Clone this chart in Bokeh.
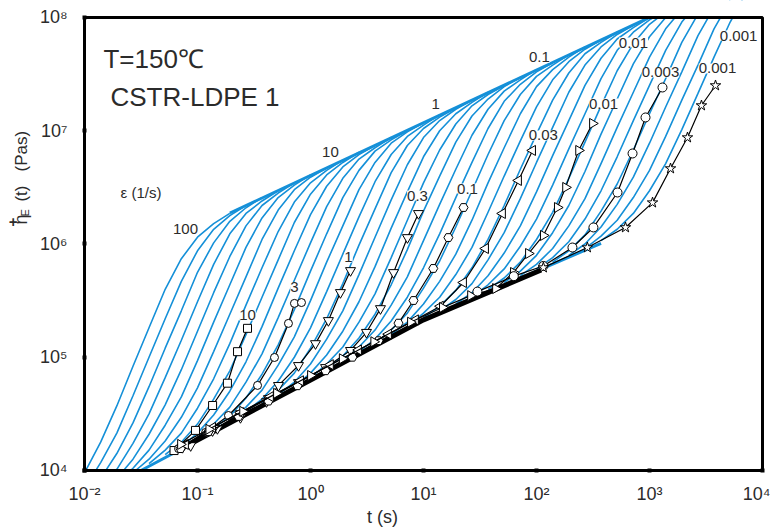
import math
from bokeh.plotting import figure
from bokeh.models import Range1d, FixedTicker, CustomJSTickFormatter, Label
from bokeh.embed import file_html
from bokeh.resources import INLINE

BLUE = "#1590d8"
INK = "#2b2b2b"
FONT = "Liberation Sans"

# ---------------------------------------------------------------------------
# Model curves: log10(t) sampling shared by all of them
grid_logt = [-2.000, -1.857, -1.714, -1.571, -1.429, -1.286, -1.143, -1.000,
             -0.857, -0.714, -0.571, -0.429, -0.286, -0.143, 0.000, 0.143,
             0.286, 0.429, 0.571, 0.714, 0.857, 1.000, 1.143, 1.286,
             1.429, 1.571, 1.714, 1.857, 2.000, 2.143, 2.286, 2.429,
             2.571, 2.714, 2.857, 3.000, 3.143, 3.286, 3.429, 3.571,
             3.714, 3.857, 4.000]

# strain rates 100 ... 0.001 1/s, seven per decade: index of the first grid
# point of each strain-hardening branch and log10(eta) from there on
blue_start = [0, 0, 0, 0, 1, 2, 3, 4, 5, 6, 7, 8, 9, 10, 11, 12, 13, 14,
              15, 16, 17, 18, 19, 20, 21, 22, 23, 24, 25, 26, 27, 28, 29,
              30, 31, 32]
blue_logeta = [
    [3.98, 4.25, 4.57, 4.92, 5.26, 5.60, 5.87, 6.06, 6.18, 6.27],
    [3.84, 4.07, 4.33, 4.66, 5.00, 5.34, 5.67, 5.94, 6.13, 6.25, 6.34],
    [3.76, 3.93, 4.15, 4.42, 4.74, 5.08, 5.41, 5.75, 6.01, 6.20, 6.32, 6.41],
    [3.72, 3.85, 4.01, 4.24, 4.50, 4.82, 5.15, 5.49, 5.82, 6.09, 6.27, 6.38, 6.47],
    [3.81, 3.93, 4.10, 4.32, 4.58, 4.89, 5.23, 5.57, 5.89, 6.16, 6.34, 6.45, 6.54],
    [3.89, 4.02, 4.18, 4.40, 4.65, 4.97, 5.31, 5.64, 5.97, 6.23, 6.41, 6.52, 6.61],
    [3.98, 4.10, 4.26, 4.47, 4.73, 5.05, 5.38, 5.71, 6.04, 6.30, 6.48, 6.59, 6.67],
    [4.06, 4.18, 4.33, 4.55, 4.81, 5.12, 5.46, 5.79, 6.11, 6.37, 6.54, 6.65, 6.74],
    [4.14, 4.25, 4.41, 4.63, 4.88, 5.20, 5.53, 5.86, 6.19, 6.44, 6.61, 6.72, 6.81],
    [4.21, 4.33, 4.49, 4.70, 4.96, 5.27, 5.61, 5.94, 6.26, 6.51, 6.68, 6.79, 6.87],
    [4.29, 4.41, 4.56, 4.78, 5.03, 5.35, 5.68, 6.01, 6.33, 6.58, 6.75, 6.85, 6.94],
    [4.37, 4.48, 4.64, 4.85, 5.11, 5.42, 5.76, 6.09, 6.41, 6.65, 6.82, 6.92, 7.00],
    [4.44, 4.56, 4.71, 4.93, 5.18, 5.50, 5.84, 6.16, 6.48, 6.72, 6.89, 6.99, 7.07],
    [4.52, 4.63, 4.79, 5.00, 5.26, 5.58, 5.91, 6.24, 6.55, 6.79, 6.95, 7.05, 7.14],
    [4.59, 4.71, 4.86, 5.08, 5.34, 5.65, 5.99, 6.31, 6.63, 6.87, 7.02, 7.12, 7.20],
    [4.67, 4.78, 4.94, 5.16, 5.41, 5.73, 6.06, 6.39, 6.70, 6.94, 7.09, 7.19, 7.27],
    [4.74, 4.86, 5.02, 5.23, 5.49, 5.80, 6.14, 6.46, 6.77, 7.00, 7.15, 7.25, 7.34],
    [4.82, 4.94, 5.09, 5.31, 5.56, 5.88, 6.21, 6.54, 6.83, 7.06, 7.22, 7.32, 7.40],
    [4.90, 5.01, 5.17, 5.38, 5.64, 5.95, 6.29, 6.60, 6.90, 7.13, 7.28, 7.39, 7.47],
    [4.97, 5.09, 5.24, 5.46, 5.71, 6.03, 6.35, 6.66, 6.96, 7.19, 7.35, 7.45, 7.54],
    [5.05, 5.16, 5.32, 5.53, 5.79, 6.09, 6.41, 6.72, 7.02, 7.26, 7.41, 7.52, 7.60],
    [5.12, 5.24, 5.39, 5.61, 5.85, 6.15, 6.47, 6.79, 7.09, 7.32, 7.48, 7.58, 7.67],
    [5.20, 5.31, 5.47, 5.67, 5.91, 6.21, 6.54, 6.85, 7.15, 7.39, 7.54, 7.65, 7.74],
    [5.27, 5.39, 5.53, 5.73, 5.97, 6.28, 6.60, 6.91, 7.21, 7.45, 7.61, 7.72, 7.80],
    [5.35, 5.45, 5.59, 5.79, 6.04, 6.34, 6.66, 6.97, 7.27, 7.51, 7.68, 7.78, 7.87],
    [5.41, 5.51, 5.65, 5.86, 6.10, 6.40, 6.72, 7.03, 7.34, 7.58, 7.74, 7.85, 7.93],
    [5.47, 5.57, 5.72, 5.92, 6.16, 6.46, 6.78, 7.09, 7.40, 7.64, 7.81, 7.91, 8.00],
    [5.53, 5.64, 5.78, 5.98, 6.22, 6.52, 6.84, 7.15, 7.46, 7.71, 7.87, 7.98, 8.06],
    [5.60, 5.70, 5.84, 6.04, 6.28, 6.58, 6.90, 7.22, 7.53, 7.77, 7.94, 8.05],
    [5.66, 5.76, 5.90, 6.10, 6.34, 6.64, 6.97, 7.28, 7.59, 7.83, 8.00, 8.11],
    [5.72, 5.82, 5.96, 6.16, 6.40, 6.71, 7.03, 7.34, 7.65, 7.90, 8.07],
    [5.78, 5.88, 6.02, 6.22, 6.47, 6.77, 7.09, 7.40, 7.71, 7.96, 8.13],
    [5.84, 5.94, 6.08, 6.29, 6.53, 6.83, 7.15, 7.46, 7.78, 8.03],
    [5.90, 6.00, 6.15, 6.35, 6.59, 6.89, 7.21, 7.52, 7.84, 8.09],
    [5.96, 6.07, 6.21, 6.41, 6.65, 6.95, 7.27, 7.58, 7.90, 8.15],
    [6.03, 6.13, 6.27, 6.47, 6.71, 7.01, 7.33, 7.65, 7.96, 8.22],
]

# common linear-viscoelastic start and common upper envelope of the model
lve_logt = [-1.5, 1.0, 2.571]
lve_logeta = [4.00, 5.33, 6.006]
env_logt = [-0.714, 3.0]
env_logeta = [6.274, 8.001]

# linear viscoelastic start-up curve (thick black)
lve_t = [0.065, 1.0, 10.0, 110.0]
lve_eta = [1.48e4, 6.3e4, 2.14e5, 5.9e5]

# measured start-up elongational viscosities, one pair per strain rate
t_10 = [0.062, 0.096, 0.136, 0.184, 0.226, 0.277]
eta_10 = [1.50e4, 2.26e4, 3.75e4, 5.90e4, 1.12e5, 1.80e5]
t_3 = [0.068, 0.118, 0.188, 0.340, 0.480, 0.638, 0.721, 0.832]
eta_3 = [1.56e4, 2.17e4, 3.06e4, 5.64e4, 9.95e4, 1.99e5, 2.99e5, 3.04e5]
t_1 = [0.087, 0.150, 0.240, 0.408, 0.521, 0.783, 1.107, 1.44, 1.84, 2.26]
eta_1 = [1.66e4, 2.35e4, 2.94e4, 4.06e4, 5.64e4, 8.46e4, 1.32e5, 2.11e5,
         3.73e5, 5.83e5]
t_0p3 = [0.0736, 0.136, 0.240, 0.425, 0.783, 1.36, 2.26, 3.13, 4.16, 5.43,
         7.21, 9.03]
eta_0p3 = [1.60e4, 2.25e4, 3.18e4, 4.32e4, 5.98e4, 8.12e4, 1.15e5, 1.66e5,
           2.69e5, 5.60e5, 1.14e6, 1.86e6]
t_0p1 = [0.0708, 0.125, 0.231, 0.425, 0.767, 1.36, 2.35, 4.0, 6.01, 8.16,
         12.2, 16.6, 22.6]
eta_0p1 = [1.56e4, 2.20e4, 3.00e4, 4.10e4, 5.60e4, 7.60e4, 1.00e5, 1.40e5,
           2.00e5, 3.17e5, 6.08e5, 1.14e6, 2.10e6]
t_0p03 = [0.0783, 0.136, 0.240, 0.442, 0.816, 1.50, 2.66, 4.90, 8.49, 14.1,
          22.6, 35.4, 50.0, 69.3, 92.3]
eta_0p03 = [1.70e4, 2.40e4, 3.25e4, 4.49e4, 6.20e4, 8.60e4, 1.16e5, 1.60e5,
            2.14e5, 2.82e5, 4.57e5, 9.12e5, 1.86e6, 3.64e6, 6.70e6]
t_0p01 = [0.0708, 0.126, 0.251, 0.50, 1.0, 1.91, 3.63, 7.67, 14.7, 26.1,
          43.4, 62.5, 84.9, 115.0, 153.0, 181.0, 236.0, 313.0]
eta_0p01 = [1.70e4, 2.31e4, 3.33e4, 4.80e4, 6.90e4, 9.70e4, 1.37e5, 2.04e5,
            2.75e5, 3.50e5, 4.04e5, 5.60e5, 8.24e5, 1.19e6, 2.10e6, 3.16e6,
            6.70e6, 1.16e7]
t_0p003 = [30.0, 63.0, 115.0, 208.0, 319.0, 521.0, 708.0, 922.0, 1303.0]
eta_0p003 = [3.80e5, 5.20e5, 6.40e5, 9.31e5, 1.40e6, 2.85e6, 6.30e6, 1.31e7,
             2.41e7]
t_0p001 = [115.0, 282.0, 613.0, 1064.0, 1535.0, 2169.0, 2884.0, 3838.0]
eta_0p001 = [6.19e5, 9.31e5, 1.40e6, 2.32e6, 4.64e6, 8.71e6, 1.67e7, 2.51e7]

# axis decades
x_ticks = [0.01, 0.1, 1, 10, 100, 1000, 10000]
y_ticks = [1e4, 1e5, 1e6, 1e7, 1e8]
T_LO, T_HI = 0.01, 1e4
E_LO, E_HI = 1e4, 1e8

# ---------------------------------------------------------------------------
# The frame spans the whole canvas; the axes sit at fixed locations so that
# their titles can be composed from ordinary labels.
p = figure(width=770, height=529, x_axis_type="log", y_axis_type="log",
           x_range=Range1d(10 ** -2.7434, 10 ** 4.0708),
           y_range=Range1d(10 ** 3.4790, 10 ** 8.1501),
           output_backend="svg", toolbar_location=None, title=None,
           min_border=0)
p.background_fill_color = "white"
p.border_fill_color = "white"
p.grid.visible = False
p.outline_line_color = None

sup = CustomJSTickFormatter(code="""
const s = {"-": "\u207b", "0": "\u2070", "1": "\u00b9", "2": "\u00b2",
           "3": "\u00b3", "4": "\u2074", "5": "\u2075", "6": "\u2076",
           "7": "\u2077", "8": "\u2078", "9": "\u2079"};
const e = Math.round(Math.log10(tick));
return "10" + String(e).split("").map(c => s[c]).join("");
""")
p.xaxis.ticker = FixedTicker(ticks=x_ticks)
p.yaxis.ticker = FixedTicker(ticks=y_ticks)
p.xaxis.fixed_location = E_LO
p.yaxis.fixed_location = T_LO
p.xaxis.bounds = (T_LO, T_HI)
p.yaxis.bounds = (E_LO, E_HI)
for ax in (p.xaxis[0], p.yaxis[0]):
    ax.formatter = sup
    ax.axis_line_color = "black"
    ax.axis_line_width = 3
    ax.major_tick_line_color = "black"
    ax.major_tick_line_width = 4
    ax.major_tick_in = 2
    ax.major_tick_out = 2
    ax.minor_tick_line_color = None
    ax.major_label_text_font = FONT
    ax.major_label_text_font_size = "18px"
    ax.major_label_text_color = INK
p.xaxis.major_label_standoff = 12
p.yaxis.major_label_standoff = 15

# model family
xs, ys = [], []
for start, vals in zip(blue_start, blue_logeta):
    xs.append([10 ** grid_logt[start + i] for i in range(len(vals))])
    ys.append([10 ** v for v in vals])
p.multi_line(xs, ys, line_color=BLUE, line_width=1.6)
p.line([10 ** v for v in lve_logt], [10 ** v for v in lve_logeta],
       line_color=BLUE, line_width=3)
p.line([10 ** v for v in env_logt], [10 ** v for v in env_logeta],
       line_color=BLUE, line_width=2.8)

# linear viscoelastic envelope
p.line(lve_t, lve_eta, line_color="black", line_width=5)

# measurements
series = [
    (t_10, eta_10, "square", 0.0, 8),
    (t_3, eta_3, "circle", 0.0, 8),
    (t_1, eta_1, "inverted_triangle", 0.0, 10),
    (t_0p3, eta_0p3, "inverted_triangle", 0.0, 10),
    (t_0p1, eta_0p1, "hex", 0.0, 9),
    (t_0p03, eta_0p03, "triangle", math.pi / 2, 10),
    (t_0p01, eta_0p01, "triangle", -math.pi / 2, 10),
    (t_0p003, eta_0p003, "circle", 0.0, 9),
    (t_0p001, eta_0p001, "star", 0.0, 11),
]
for t, eta, mk, ang, sz in series:
    p.line(t, eta, line_color="black", line_width=1.2)
    p.scatter(t, eta, marker=mk, angle=ang, size=sz, fill_color="white",
              line_color="black", line_width=1)

# keep the curves inside the plotting box
p.quad(left=[1e-3, 1e-3, 1e-3, T_HI], right=[2e4, 2e4, T_LO, 2e4],
       bottom=[E_HI, 2e3, 2e3, 2e3], top=[2e8, E_LO, 2e8, 2e8],
       fill_color="white", line_color=None)
# top and right edges of the box
p.line([T_LO, T_HI, T_HI], [E_HI, E_HI, E_LO], line_color="black",
       line_width=3)


def note(text, t, eta, size="15px", align="center", base="middle", bg=True,
         angle=0.0, dx=0, style="normal"):
    lab = Label(x=t, y=eta, text=text, text_font=FONT, text_font_size=size,
                text_color=INK, text_align=align, text_baseline=base,
                angle=angle, x_offset=dx, text_font_style=style)
    if bg:
        lab.background_fill_color = "white"
    p.add_layout(lab)


# rate labels of the model curves
note("100", 0.0783, 1.37e6)
note("10", 1.50, 6.43e6)
note("1", 12.8, 1.71e7)
note("0.1", 106.0, 4.44e7)
note("0.01", 721.0, 6.0e7)
note("0.001", 6140.0, 6.93e7)

# rate labels of the measurements
note("10", 0.277, 2.34e5)
note("3", 0.721, 4.13e5)
note("1", 2.17, 7.6e5)
note("0.3", 8.85, 2.68e6)
note("0.1", 24.5, 3.09e6)
note("0.03", 115.0, 9.08e6)
note("0.01", 392.0, 1.74e7)
note("0.003", 1250.0, 3.27e7)
note("0.001", 4000.0, 3.55e7)

# headings
note("T=150\u2103", 0.01472, 4.26e7, size="26px", align="left", bg=False)
note("CSTR-LDPE 1", 0.01698, 1.97e7, size="26px", align="left", bg=False)
note("\u03b5 (1/s)", 0.02085, 2.85e6, size="15px", align="left", bg=False)

# axis titles
note("t (s)", 4.34, 3.85e3, size="18px", bg=False)
up = math.pi / 2
note("\u03b7", T_LO, 1.49e6, size="18px", align="left", base="alphabetic",
     bg=False, angle=up, dx=-64)
note("+", T_LO, 1.43e6, size="15px", align="left", base="alphabetic",
     bg=False, angle=up, dx=-72, style="bold")
note("E", T_LO, 1.75e6, size="11px", align="left", base="alphabetic",
     bg=False, angle=up, dx=-60)
note("(t)", T_LO, 2.37e6, size="17px", align="left", base="alphabetic",
     bg=False, angle=up, dx=-63)
note("(Pas)", T_LO, 4.37e6, size="17px", align="left", base="alphabetic",
     bg=False, angle=up, dx=-63)

open("out.html", "w").write(file_html(p, INLINE))
